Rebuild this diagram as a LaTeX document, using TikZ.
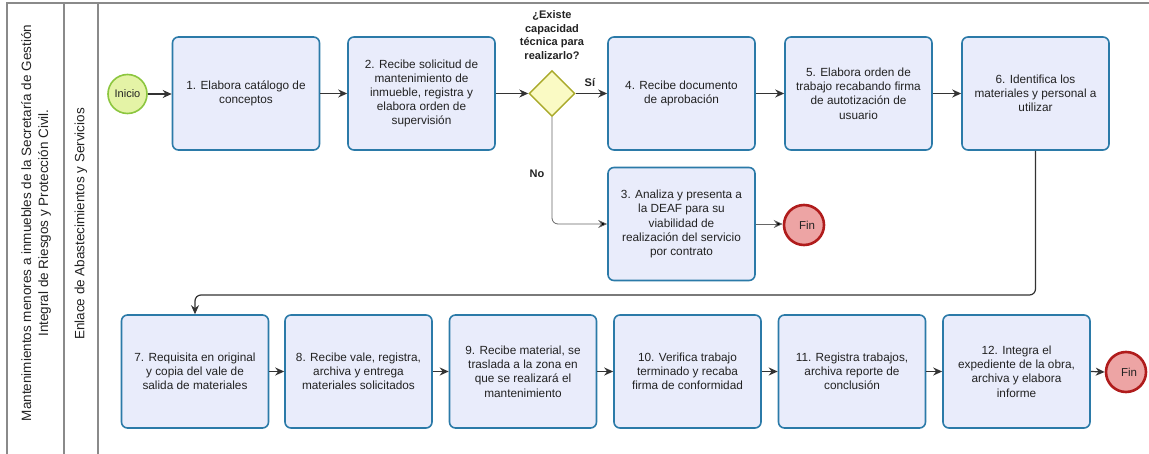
\documentclass[tikz,border=0pt]{standalone}
\usepackage{fontspec}
\setmainfont{Liberation Sans}
\usetikzlibrary{shapes.geometric,arrows.meta}
\definecolor{poolline}{HTML}{8A8A8A}
\definecolor{taskfill}{HTML}{E9ECFB}
\definecolor{taskdraw}{HTML}{2B7AA8}
\definecolor{startfill}{HTML}{E4F3A6}
\definecolor{startdraw}{HTML}{8CC63F}
\definecolor{endfill}{HTML}{EDA4A4}
\definecolor{enddraw}{HTML}{B01C1C}
\definecolor{gwfill}{HTML}{FAFAC4}
\definecolor{gwdraw}{HTML}{A9A92A}
\definecolor{flowline}{HTML}{333333}
\definecolor{txt}{HTML}{222222}
\tikzset{
  task/.style={rectangle, rounded corners=6pt, draw=taskdraw, fill=taskfill,
    line width=1.6pt, minimum width=147pt, minimum height=113pt,
    align=center, font=\fontsize{11.8}{14.2}\selectfont, text=txt},
  startev/.style={circle, draw=startdraw, fill=startfill, line width=1.6pt,
    minimum size=39pt, inner sep=0pt, font=\fontsize{11}{13}\selectfont, text=txt},
  endev/.style={circle, draw=enddraw, fill=endfill, line width=2.6pt,
    minimum size=40pt, inner sep=0pt, font=\fontsize{11.5}{13}\selectfont, text=txt},
  gateway/.style={diamond, aspect=1, draw=gwdraw, fill=gwfill, line width=1.4pt,
    minimum width=46pt, minimum height=46pt, inner sep=0pt},
  flow/.style={draw=flowline, line width=1.2pt, -{Stealth[length=9pt,width=8pt]}},
  thinflow/.style={draw=gray!80!black, line width=0.8pt, -{Stealth[length=9pt,width=8pt,fill=black]}},
  lbl/.style={font=\fontsize{11}{13.5}\selectfont\bfseries, text=txt, align=center},
  lane/.style={draw=poolline, line width=1.6pt},
  lanetext/.style={rotate=90, align=center, font=\fontsize{13.5}{17}\selectfont, text=txt}
}
\begin{document}
\begin{tikzpicture}[x=1pt,y=-1pt]
\useasboundingbox (0,0) rectangle (1149,454);

% pool and lane borders
\draw[lane] (7,454) -- (7,3) -- (1149,3);
\draw[lane] (64,3) -- (64,454);
\draw[lane] (98,3) -- (98,454);
\node[lanetext] (pooltitle) at (36,223) {Mantenimientos menores a inmuebles de la Secretaría de Gestión\\Integral de Riesgos y Protección Civil.};
\node[lanetext] (lanetitle) at (81,224) {Enlace de Abastecimientos y Servicios};

% upper row
\node[startev] (inicio) at (127.5,94) {Inicio};
\node[task] (t1) at (246,93.5) {1. Elabora catálogo de\\conceptos};
\node[task] (t2) at (421.5,93.5) {2. Recibe solicitud de\\mantenimiento de\\inmueble, registra y\\elabora orden de\\supervisión};
\node[gateway] (gw) at (552,93.5) {};
\node[lbl, anchor=south] (gwq) at (552,63) {¿Existe\\capacidad\\técnica para\\realizarlo?};
\node[task] (t4) at (681.5,93.5) {4. Recibe documento\\de aprobación};
\node[task] (t5) at (858.5,93.5) {5. Elabora orden de\\trabajo recabando firma\\de autotización de\\usuario};
\node[task] (t6) at (1035.5,93.5) {6. Identifica los\\materiales y personal a\\utilizar};
\node[task] (t3) at (681.5,224) {3. Analiza y presenta a\\la DEAF para su\\viabilidad de\\realización del servicio\\por contrato};
\node[endev] (fin1) at (804,225) {\hspace*{6pt}\raisebox{-2pt}{Fin}};

% lower row
\node[task] (t7) at (195,371.5) {7. Requisita en original\\y copia del vale de\\salida de materiales};
\node[task] (t8) at (358.5,371.5) {8. Recibe vale, registra,\\archiva y entrega\\materiales solicitados};
\node[task] (t9) at (523,371.5) {9. Recibe material, se\\traslada a la zona en\\que se realizará el\\mantenimiento};
\node[task] (t10) at (687.5,371.5) {10. Verifica trabajo\\terminado y recaba\\firma de conformidad};
\node[task] (t11) at (852,371.5) {11. Registra trabajos,\\archiva reporte de\\conclusión};
\node[task] (t12) at (1016.5,371.5) {12. Integra el\\expediente de la obra,\\archiva y elabora\\informe};
\node[endev] (fin2) at (1126,372) {\hspace*{6pt}\raisebox{-2pt}{Fin}};

% sequence flows
\draw[flow] (inicio.east) -- (inicio.east -| t1.west);
\draw[flow] (t1.east) -- (t2.west);
\draw[flow] (t2.east) -- (gw.west);
\draw[flow] (gw.east) -- node[lbl, above=3pt, pos=0.45] (si) {Sí} (t4.west);
\draw[flow] (t4.east) -- (t5.west);
\draw[flow] (t5.east) -- (t6.west);
\draw[thinflow, rounded corners=6pt] (gw.south) -- (gw.south |- t3.west) -- (t3.west);
\node[lbl] (no) at (537,174) {No};
\draw[thinflow] (t3.east) -- (t3.east -| fin1.west);
\coordinate (turnA) at (t6.south |- 0,295);
\coordinate (turnB) at (t7.north |- 0,295);
\draw[flow, rounded corners=6pt] (t6.south) -- (turnA) -- (turnB) -- (t7.north);
\draw[flow] (t7.east) -- (t8.west);
\draw[flow] (t8.east) -- (t9.west);
\draw[flow] (t9.east) -- (t10.west);
\draw[flow] (t10.east) -- (t11.west);
\draw[flow] (t11.east) -- (t12.west);
\draw[flow] (t12.east) -- (fin2.west);
\end{tikzpicture}
\end{document}
